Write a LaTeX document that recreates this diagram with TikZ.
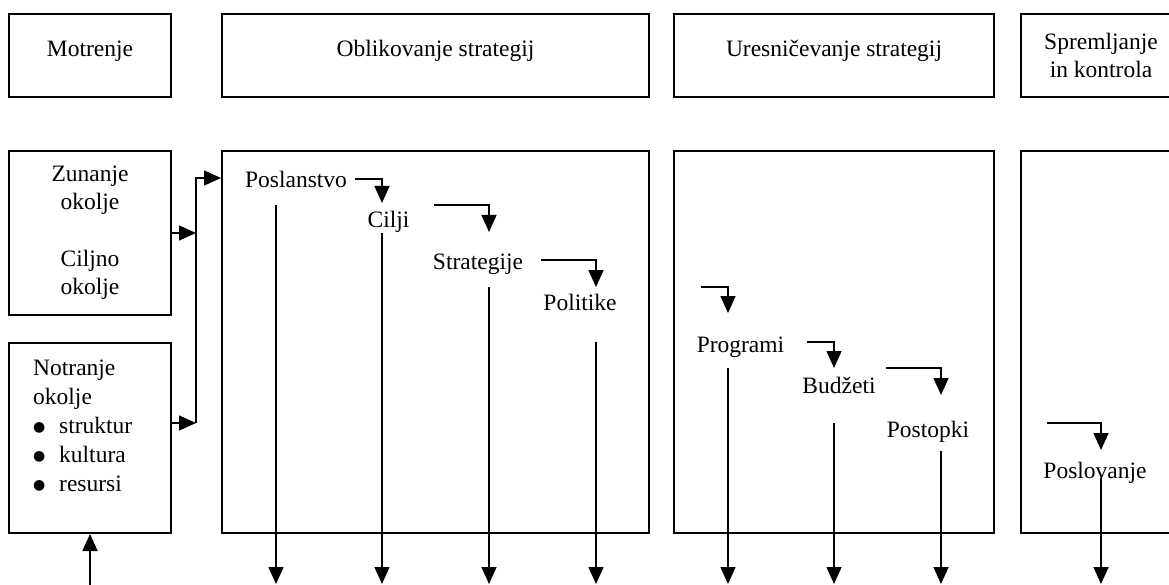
\documentclass[tikz,border=0pt]{standalone}
\usepackage{fontspec}
\setmainfont{Liberation Serif}
\newfontfamily\simboli{DejaVu Sans}
\usetikzlibrary{positioning,arrows.meta}

\newcommand{\alineja}{\makebox[26pt][l]{\raisebox{2pt}{\simboli\fontsize{14}{14}\selectfont ●}}}

\begin{document}
\begin{tikzpicture}[x=1pt,y=-1pt,auto]
                        \tikzstyle{every node}=[inner sep=0,font=\fontsize{23.5}{28}\selectfont]
                        \tikzstyle{box}=[draw,rectangle,line width=2pt,align=center]
                        \tikzstyle{head}=[box,minimum height=83]
                        \tikzstyle{head1}=[head,text height=16pt,text depth=13.5pt]
                        \tikzstyle{stage}=[text height=16pt,text depth=5pt]
                        \tikzstyle{flow}=[draw,line width=1.4pt,-{Triangle[length=17pt,width=15pt]}]
                        \useasboundingbox (0,0) rectangle (1169,585);
                        \clip (0,0) rectangle (1169,585);
                        {
                            % faze
                            \node[head1,minimum width=162] (motrenje) at (90,55.5) {Motrenje};
                            \node[head1,minimum width=427] (oblikovanje) at (435.5,55.5) {Oblikovanje strategij};
                            \node[head1,minimum width=320] (uresnicevanje) at (834,55.5) {Uresničevanje strategij};
                            \node[head,minimum width=160] (spremljanje) at (1101,55.5) {Spremljanje\\in kontrola};

                            % okolje
                            \node[box,minimum width=162,minimum height=164] (zunanje) at (90,233) {Zunanje\\okolje\\[29pt]Ciljno\\okolje};
                            \node[box,minimum width=162,minimum height=190] (notranje) at (90,438) {};
                            \node[anchor=north west,align=left,font=\fontsize{23.5}{29}\selectfont] (notranjeokolje) at (33,360)
                                {Notranje\\okolje\\\alineja struktur\\\alineja kultura\\\alineja resursi};

                            % velike skatle
                            \node[box,minimum width=427,minimum height=382] (oblikovanjebox) at (435.5,342) {};
                            \node[box,minimum width=320,minimum height=382] (uresnicevanjebox) at (834,342) {};
                            \node[box,minimum width=160,minimum height=382] (spremljanjebox) at (1101,342) {};

                            \node[stage] (poslanstvo) at (296,182) {Poslanstvo};
                            \node[stage] (cilji) at (388.5,222) {Cilji};
                            \node[stage] (strategije) at (478,264) {Strategije};
                            \node[stage] (politike) at (580,305) {Politike};
                            \node[stage] (programi) at (740.5,347) {Programi};
                            \node[stage] (budzeti) at (839,388) {Budžeti};
                            \node[stage] (postopki) at (928,432) {Postopki};
                            \node[stage] (poslovanje) at (1095,473) {Poslovanje};

                            % vhod v oblikovanje
                            \coordinate (bustop) at (196,178);
                            \coordinate (busbot) at (196,423);
                            \coordinate (vhod) at (90,590);
                            \draw[flow] (zunanje.east) -- (zunanje.east -| bustop);
                            \draw[flow] (busbot -| notranje.east) -- (busbot);
                            \draw[flow] (busbot) -- (bustop) -- (bustop -| oblikovanjebox.west);
                            \draw[flow] (vhod) -- (notranje.south);

                            % lomljene puscice
                            \foreach \i/\sx/\sy/\ex/\ey in {1/355/179/382/203, 2/434/205/489/232, 3/541/260/596/287,
                                    4/701/287/728/313, 5/807/342/834/368, 6/886/368/941/395, 7/1047/423/1101/450} {
                                \coordinate (s\i) at (\sx,\sy);
                                \coordinate (e\i) at (\ex,\ey);
                                \draw[flow] (s\i) -| (e\i);
                            }

                            % navpicne puscice
                            \foreach \i/\x/\y in {1/276/205, 2/382/233, 3/489/287, 4/596/342,
                                    5/728/368, 6/834/423, 7/941/451, 8/1101/478} {
                                \coordinate (t\i) at (\x,\y);
                                \coordinate (b\i) at (\x,584);
                                \draw[flow] (t\i) -- (b\i);
                            }
                        }
                    \end{tikzpicture}
\end{document}
